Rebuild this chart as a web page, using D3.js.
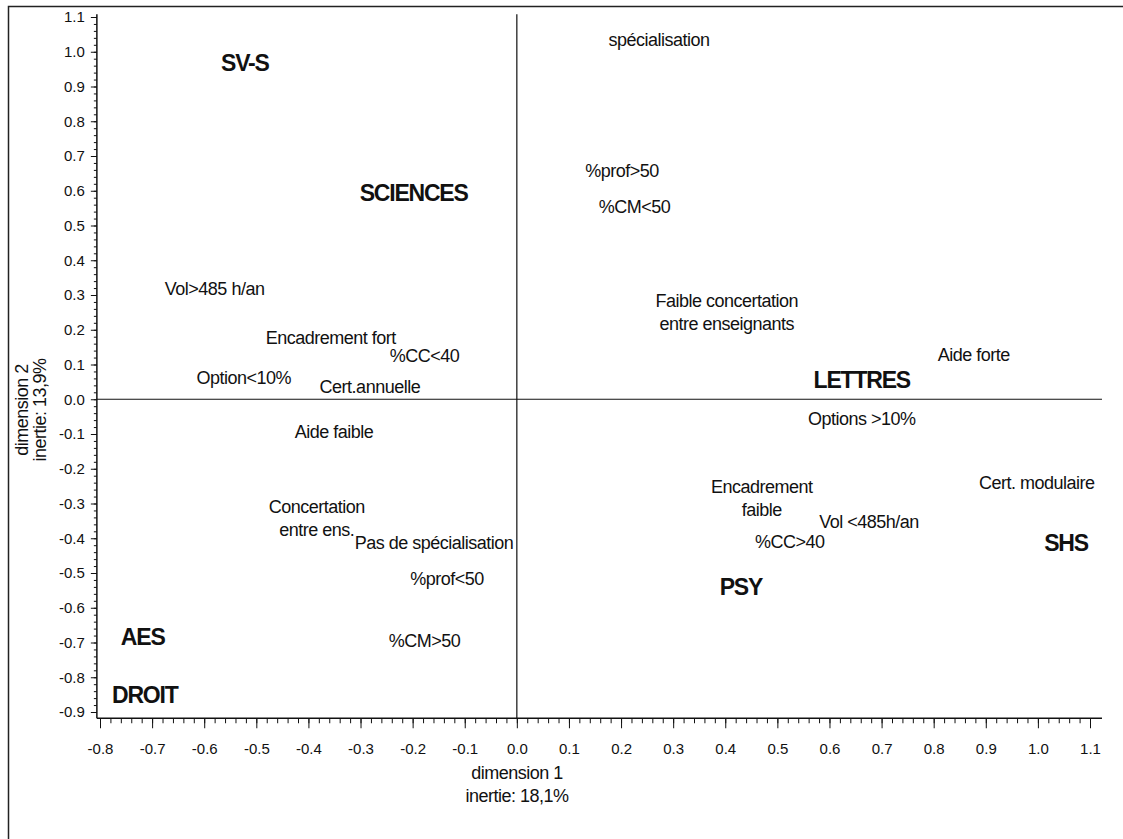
<!DOCTYPE html>
<html><head><meta charset="utf-8">
<script src="https://cdn.jsdelivr.net/npm/d3@7"></script>
<style>
body{margin:0;background:#fff;}
svg{display:block;}
.lab{font-family:"Liberation Sans Narrow","Liberation Sans",Arial,sans-serif;font-size:18px;letter-spacing:-0.5px;fill:#111;}
.big{font-family:"Liberation Sans",Arial,sans-serif;font-size:23px;font-weight:bold;letter-spacing:-1.2px;fill:#111;}
.tick text{font-family:"Liberation Sans",Arial,sans-serif;font-size:15px;fill:#111;}
</style></head>
<body>
<script>
// Tick labels
const xTicks = [-0.8,-0.7,-0.6,-0.5,-0.4,-0.3,-0.2,-0.1,0.0,0.1,0.2,0.3,0.4,0.5,0.6,0.7,0.8,0.9,1.0,1.1];
const yTicks = [-0.9,-0.8,-0.7,-0.6,-0.5,-0.4,-0.3,-0.2,-0.1,0.0,0.1,0.2,0.3,0.4,0.5,0.6,0.7,0.8,0.9,1.0,1.1];
// Modalities (variable categories)
const varLabels = ["spécialisation","%prof>50","%CM<50","Vol>485 h/an","Faible concertation\nentre enseignants","Encadrement fort","%CC<40","Aide forte","Option<10%","Cert.annuelle","Options >10%","Aide faible","Cert. modulaire","Encadrement\nfaible","Concertation\nentre ens.","Vol <485h/an","%CC>40","Pas de spécialisation","%prof<50","%CM>50"];
const varDim1 = [0.273,0.202,0.226,-0.580,0.403,-0.357,-0.177,0.877,-0.524,-0.282,0.662,-0.351,0.998,0.470,-0.384,0.676,0.524,-0.159,-0.134,-0.177];
const varDim2 = [1.036,0.659,0.555,0.319,0.250,0.178,0.124,0.127,0.063,0.035,-0.055,-0.092,-0.239,-0.285,-0.342,-0.351,-0.409,-0.414,-0.515,-0.694];
// Disciplines
const discLabels = ["SV-S","SCIENCES","LETTRES","SHS","PSY","AES","DROIT"];
const discDim1 = [-0.522,-0.198,0.662,1.054,0.430,-0.718,-0.714];
const discDim2 = [0.967,0.593,0.055,-0.414,-0.541,-0.685,-0.852];

const W=1123,H=839;
const svg=d3.select("body").append("svg").attr("width",W).attr("height",H);
const x=d3.scaleLinear().domain([-0.8,1.1]).range([100,1090]);
const y=d3.scaleLinear().domain([-0.9,1.1]).range([712,17]);
const xMin=-0.806,xMax=1.123,yMin=-0.918,yMax=1.108;
const fmt=d=>d3.format(".1f")(d).replace("\u2212","-");

// outer frame (left and top)
svg.append("path").attr("d",`M8.5,${H} L8.5,6.5 L${W},6.5`).attr("fill","none").attr("stroke","#222").attr("stroke-width",1.5);

const minor=(lo,hi)=>d3.range(Math.round(lo*50),Math.round(hi*50)+1).map(v=>v/50);

// X axis
const gx=svg.append("g").attr("transform",`translate(0,${y(yMin)})`);
gx.append("g").call(d3.axisBottom(x).tickValues(minor(-0.8,1.1)).tickSize(5).tickFormat("")).call(g=>g.select(".domain").remove());
gx.append("g").call(d3.axisBottom(x).tickValues(xTicks).tickSize(10).tickPadding(15).tickFormat(fmt)).call(g=>g.select(".domain").remove());
gx.append("line").attr("x1",x(xMin)).attr("x2",x(xMax)).attr("stroke","#111").attr("stroke-width",1.5);
gx.selectAll("line").attr("stroke","#111");

// Y axis
const gy=svg.append("g").attr("transform",`translate(${x(xMin)},0)`);
gy.append("g").call(d3.axisLeft(y).tickValues(minor(-0.9,1.1)).tickSize(3).tickFormat("")).call(g=>g.select(".domain").remove());
gy.append("g").call(d3.axisLeft(y).tickValues(yTicks).tickSize(6).tickPadding(6).tickFormat(fmt)).call(g=>g.select(".domain").remove());
gy.append("line").attr("y1",y(yMax)).attr("y2",y(yMin)).attr("stroke","#111").attr("stroke-width",1.5);
gy.selectAll("line").attr("stroke","#111");

// zero reference lines
svg.append("line").attr("x1",x(xMin)).attr("x2",x(xMax)).attr("y1",y(0)).attr("y2",y(0)).attr("stroke","#111").attr("stroke-width",1.2);
svg.append("line").attr("x1",x(0)).attr("x2",x(0)).attr("y1",y(yMax)).attr("y2",y(yMin)).attr("stroke","#111").attr("stroke-width",1.2);

// variable labels
varLabels.forEach((t,i)=>{
  const lines=t.split("\n");
  const txt=svg.append("text").attr("class","lab").attr("text-anchor","middle")
    .attr("x",x(varDim1[i])).attr("y",y(varDim2[i]));
  const lh=23, off=-(lines.length-1)*lh/2;
  lines.forEach((l,j)=>txt.append("tspan").attr("x",x(varDim1[i])).attr("y",y(varDim2[i])+off+j*lh).attr("dy","0.35em").text(l));
});
// discipline labels
discLabels.forEach((t,i)=>{
  svg.append("text").attr("class","big").attr("text-anchor","middle")
    .attr("x",x(discDim1[i])).attr("y",y(discDim2[i])).attr("dy","0.35em").text(t);
});

// axis titles
const xt=svg.append("text").attr("class","lab").attr("text-anchor","middle");
xt.append("tspan").attr("x",517).attr("y",779).text("dimension 1");
xt.append("tspan").attr("x",517).attr("y",802).text("inertie: 18,1%");
const yt=svg.append("text").attr("class","lab").attr("text-anchor","middle").attr("transform","translate(0,410) rotate(-90)");
yt.append("tspan").attr("x",0).attr("y",28).text("dimension 2");
yt.append("tspan").attr("x",0).attr("y",46).text("inertie: 13,9%");
</script>
</body></html>
